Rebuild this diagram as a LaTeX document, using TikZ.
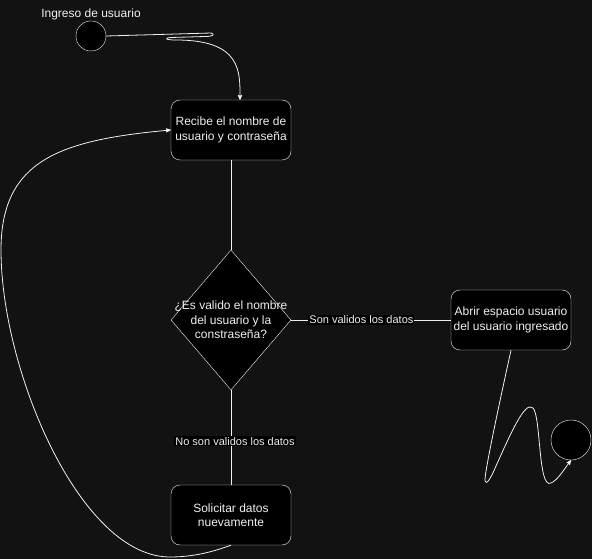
\documentclass[tikz,border=0pt]{standalone}
\usepackage{fontspec}
\setmainfont{Liberation Sans}
\usepackage{tikz}
\usetikzlibrary{arrows,shapes,shapes.geometric}
\usetikzlibrary{calc}
\definecolor{fondo}{HTML}{121212}
\definecolor{trazo}{HTML}{F0F0F0}
\tikzstyle{estado}=[rectangle,rounded corners=9pt,draw=trazo,fill=black,text=trazo,minimum width=120pt,minimum height=60pt,inner sep=0pt,align=center,font=\fontsize{12}{14.5}\selectfont]
\tikzstyle{inicio}=[circle,draw=trazo,fill=black,minimum size=30pt,inner sep=0pt]
\tikzstyle{fin}=[circle,draw=trazo,fill=black,minimum size=40pt,inner sep=0pt]
\tikzstyle{decision}=[diamond,draw=trazo,fill=black,minimum width=120pt,minimum height=140pt,inner sep=0pt]
\tikzstyle{arista} = [draw,trazo,line width=0.8pt]
\tikzstyle{flecha} = [draw,trazo,line width=0.8pt,-stealth']
\tikzstyle{etiqueta} = [fill=black,text=trazo,inner sep=1pt,font=\fontsize{11}{13}\selectfont]

\begin{document}
\begin{tikzpicture}[x=1pt,y=-1pt]

    \fill[fondo] (0,0) rectangle (592,559);
    \useasboundingbox (0,0) rectangle (592,559);

    \node[inicio,label={[text=trazo,font=\fontsize{12}{14}\selectfont,label distance=-3pt]above:Ingreso de usuario}] (ingreso) at (91,36) {};
    \node[fin] (salida) at (571,440) {};

    \foreach \pos/ \name/ \texto in {{(231,130)/recibe/{Recibe el nombre de\\usuario y contraseña}}, {(511,320)/abrir/{Abrir espacio usuario\\del usuario ingresado}}, {(231,515)/solicitar/{Solicitar datos\\nuevamente}}}
        \node[estado] (\name) at \pos {\texto};

    \node[decision] (valido) at (231,320) {};
    \node[text=trazo,align=center,font=\fontsize{12}{14.5}\selectfont] (pregunta) at (valido) {¿Es valido el nombre\\del usuario y la\\constraseña?};

    % entrada al primer estado
    \path[flecha] (ingreso.east) -- (211,33) .. controls (215,34) and (214,36.5) .. (205,36.5) -- (171,37.5) .. controls (164,38) and (165,40) .. (176,40) .. controls (242,40) and (240,72) .. ($(recibe.north)+(9,0)$);

    % Connect vertices with edges and draw labels
    \path[arista] (recibe) -- (valido);
    \path[arista] (valido) -- node[etiqueta,pos=0.44] {Son validos los datos} (abrir);
    \path[arista] (valido) -- node[etiqueta,pos=0.54,xshift=4pt] {No son validos los datos} (solicitar);

    \path[flecha] (solicitar.south) .. controls (215,551) and (195,557) .. (170,557) .. controls (80,557) and (1,370) .. (1,250) .. controls (1,160) and (60,140) .. (recibe.west);

    \path[flecha] (abrir.south) .. controls (500,400) and (485,470) .. (485,480) .. controls (486,486) and (490,480) .. (496,466) .. controls (510,435) and (525,400) .. (533,408) .. controls (541,416) and (538,490) .. (551,483) .. controls (558,480) and (565,468) .. (salida.south);

\end{tikzpicture}
\end{document}
